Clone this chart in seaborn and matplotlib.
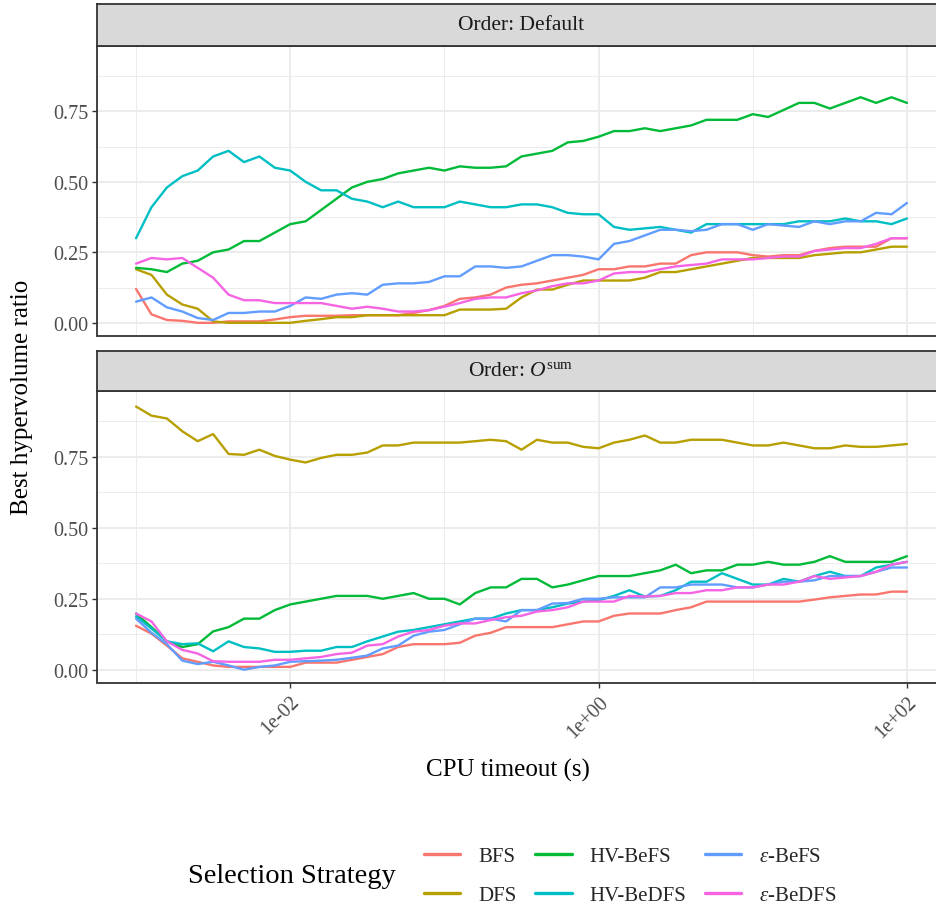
import numpy as np
import pandas as pd
import matplotlib
matplotlib.use("Agg")
import matplotlib.pyplot as plt
import seaborn as sns
from matplotlib.lines import Line2D
from matplotlib.ticker import FixedLocator, NullFormatter

# ---------------- data ----------------
timeout_s = np.logspace(-3, 2, 51)  # CPU timeout grid (s), 10 points per decade

strategies = ["BFS", "DFS", "HV-BeFS", "HV-BeDFS", "ε-BeFS", "ε-BeDFS"]
strategy_labels = ["BFS", "DFS", "HV-BeFS", "HV-BeDFS",
                   r"$\varepsilon$-BeFS", r"$\varepsilon$-BeDFS"]
facets = ["Default", "Osum"]
facet_titles = ["Order: Default", r"Order: $\mathit{O}^{\mathrm{sum}}$"]

# Order: Default
default_bfs = [0.12, 0.03, 0.01, 0.007, 0.0, 0.0, 0.005, 0.005, 0.005, 0.012,
               0.02, 0.025, 0.025, 0.025, 0.027, 0.027, 0.027, 0.027, 0.035, 0.045,
               0.06, 0.085, 0.09, 0.10, 0.125, 0.135, 0.14, 0.15, 0.16, 0.17,
               0.19, 0.19, 0.20, 0.20, 0.21, 0.21, 0.24, 0.25, 0.25, 0.25,
               0.24, 0.235, 0.24, 0.24, 0.255, 0.265, 0.27, 0.27, 0.27, 0.30, 0.30]
default_dfs = [0.19, 0.17, 0.10, 0.065, 0.05, 0.005, 0.0, 0.0, 0.0, 0.0,
               0.0, 0.007, 0.013, 0.02, 0.02, 0.027, 0.027, 0.027, 0.027, 0.027,
               0.027, 0.047, 0.047, 0.047, 0.05, 0.09, 0.118, 0.118, 0.135, 0.15,
               0.15, 0.15, 0.15, 0.16, 0.18, 0.18, 0.19, 0.20, 0.21, 0.22,
               0.23, 0.23, 0.23, 0.23, 0.24, 0.245, 0.25, 0.25, 0.26, 0.27, 0.27]
default_hv_befs = [0.195, 0.19, 0.18, 0.21, 0.22, 0.25, 0.26, 0.29, 0.29, 0.32,
                   0.35, 0.36, 0.40, 0.44, 0.48, 0.50, 0.51, 0.53, 0.54, 0.55,
                   0.54, 0.555, 0.55, 0.55, 0.555, 0.59, 0.60, 0.61, 0.64, 0.645,
                   0.66, 0.68, 0.68, 0.69, 0.68, 0.69, 0.70, 0.72, 0.72, 0.72,
                   0.74, 0.73, 0.755, 0.78, 0.78, 0.76, 0.78, 0.80, 0.78, 0.80, 0.78]
default_hv_bedfs = [0.30, 0.41, 0.48, 0.52, 0.54, 0.59, 0.61, 0.57, 0.59, 0.55,
                    0.54, 0.50, 0.47, 0.47, 0.44, 0.43, 0.41, 0.43, 0.41, 0.41,
                    0.41, 0.43, 0.42, 0.41, 0.41, 0.42, 0.42, 0.41, 0.39, 0.385,
                    0.385, 0.34, 0.33, 0.335, 0.34, 0.33, 0.32, 0.35, 0.35, 0.35,
                    0.35, 0.35, 0.35, 0.36, 0.36, 0.36, 0.37, 0.36, 0.36, 0.35, 0.37]
default_eps_befs = [0.075, 0.09, 0.055, 0.04, 0.017, 0.01, 0.035, 0.035, 0.04, 0.04,
                    0.06, 0.09, 0.085, 0.10, 0.105, 0.10, 0.135, 0.14, 0.14, 0.145,
                    0.165, 0.165, 0.20, 0.20, 0.195, 0.20, 0.22, 0.24, 0.24, 0.235,
                    0.225, 0.28, 0.29, 0.31, 0.33, 0.33, 0.325, 0.33, 0.35, 0.35,
                    0.33, 0.35, 0.345, 0.34, 0.36, 0.35, 0.36, 0.36, 0.39, 0.385, 0.425]
default_eps_bedfs = [0.21, 0.23, 0.225, 0.23, 0.195, 0.16, 0.10, 0.08, 0.08, 0.07,
                     0.07, 0.07, 0.07, 0.06, 0.05, 0.057, 0.05, 0.04, 0.04, 0.045,
                     0.057, 0.07, 0.085, 0.09, 0.09, 0.105, 0.115, 0.13, 0.14, 0.14,
                     0.15, 0.175, 0.18, 0.18, 0.19, 0.20, 0.205, 0.21, 0.225, 0.225,
                     0.225, 0.23, 0.235, 0.235, 0.255, 0.26, 0.265, 0.265, 0.28, 0.30, 0.30]

# Order: O^sum
osum_bfs = [0.155, 0.127, 0.085, 0.04, 0.028, 0.015, 0.01, 0.01, 0.01, 0.01,
            0.01, 0.025, 0.025, 0.025, 0.035, 0.045, 0.055, 0.08, 0.09, 0.09,
            0.09, 0.095, 0.12, 0.13, 0.15, 0.15, 0.15, 0.15, 0.16, 0.17,
            0.17, 0.19, 0.198, 0.198, 0.198, 0.21, 0.22, 0.24, 0.24, 0.24,
            0.24, 0.24, 0.24, 0.24, 0.247, 0.255, 0.26, 0.265, 0.265, 0.275, 0.275]
osum_dfs = [0.927, 0.895, 0.885, 0.84, 0.805, 0.83, 0.76, 0.757, 0.775, 0.753,
            0.74, 0.73, 0.746, 0.757, 0.757, 0.765, 0.79, 0.79, 0.80, 0.80,
            0.80, 0.80, 0.805, 0.81, 0.805, 0.775, 0.81, 0.80, 0.80, 0.785,
            0.78, 0.80, 0.81, 0.825, 0.80, 0.80, 0.81, 0.81, 0.81, 0.80,
            0.79, 0.79, 0.80, 0.79, 0.78, 0.78, 0.79, 0.785, 0.785, 0.79, 0.795]
osum_hv_befs = [0.198, 0.15, 0.10, 0.08, 0.09, 0.135, 0.15, 0.18, 0.18, 0.21,
                0.23, 0.24, 0.25, 0.26, 0.26, 0.26, 0.25, 0.26, 0.27, 0.25,
                0.25, 0.23, 0.27, 0.29, 0.29, 0.32, 0.32, 0.29, 0.30, 0.315,
                0.33, 0.33, 0.33, 0.34, 0.35, 0.37, 0.34, 0.35, 0.35, 0.37,
                0.37, 0.38, 0.37, 0.37, 0.38, 0.40, 0.38, 0.38, 0.38, 0.38, 0.40]
osum_hv_bedfs = [0.188, 0.145, 0.10, 0.09, 0.093, 0.065, 0.10, 0.08, 0.075, 0.063,
                 0.063, 0.067, 0.067, 0.08, 0.08, 0.10, 0.117, 0.134, 0.14, 0.15,
                 0.16, 0.17, 0.18, 0.18, 0.198, 0.21, 0.21, 0.22, 0.233, 0.24,
                 0.245, 0.26, 0.28, 0.258, 0.26, 0.28, 0.31, 0.31, 0.34, 0.32,
                 0.30, 0.30, 0.32, 0.31, 0.33, 0.345, 0.33, 0.33, 0.36, 0.37, 0.38]
osum_eps_befs = [0.18, 0.13, 0.09, 0.032, 0.02, 0.028, 0.015, 0.0, 0.01, 0.015,
                 0.028, 0.03, 0.032, 0.035, 0.042, 0.05, 0.075, 0.085, 0.12, 0.134,
                 0.14, 0.16, 0.18, 0.18, 0.17, 0.21, 0.21, 0.233, 0.235, 0.25,
                 0.25, 0.255, 0.255, 0.255, 0.29, 0.29, 0.30, 0.30, 0.30, 0.29,
                 0.29, 0.30, 0.31, 0.31, 0.315, 0.33, 0.33, 0.33, 0.345, 0.36, 0.36]
osum_eps_bedfs = [0.198, 0.17, 0.10, 0.07, 0.057, 0.03, 0.028, 0.028, 0.028, 0.035,
                  0.035, 0.04, 0.045, 0.055, 0.06, 0.085, 0.09, 0.117, 0.134, 0.14,
                  0.155, 0.163, 0.163, 0.175, 0.185, 0.19, 0.205, 0.21, 0.22, 0.24,
                  0.24, 0.24, 0.26, 0.258, 0.26, 0.27, 0.27, 0.28, 0.28, 0.29,
                  0.29, 0.30, 0.30, 0.31, 0.33, 0.32, 0.325, 0.33, 0.345, 0.37, 0.38]

series = {
    "Default": [default_bfs, default_dfs, default_hv_befs, default_hv_bedfs,
                default_eps_befs, default_eps_bedfs],
    "Osum": [osum_bfs, osum_dfs, osum_hv_befs, osum_hv_bedfs,
             osum_eps_befs, osum_eps_bedfs],
}

rows = []
for facet in facets:
    for strat, vals in zip(strategies, series[facet]):
        for t, v in zip(timeout_s, vals):
            rows.append({"facet": facet, "strategy": strat, "timeout": t, "ratio": v})
df = pd.DataFrame(rows)

colors = ["#F8766D", "#B79F00", "#00BA38", "#00BFC4", "#619CFF", "#F564E3"]
palette = dict(zip(strategies, colors))

# ---------------- style ----------------
sns.set_theme(style="white")
plt.rcParams["font.family"] = ["Liberation Serif", "DejaVu Serif"]
plt.rcParams["mathtext.fontset"] = "custom"
plt.rcParams["mathtext.rm"] = "Liberation Serif"
plt.rcParams["mathtext.it"] = "Liberation Serif:italic"
plt.rcParams["mathtext.bf"] = "Liberation Serif:bold"

W, H = 937, 912
fig = plt.figure(figsize=(W / 100, H / 100), dpi=100)

def fx(px):
    return px / W

def fy(py):
    return 1 - py / H

left_px, right_px = 97.5, 945.5
panels = [(47, 337, 5), (392, 684, 352)]  # panel top, panel bottom, strip top

grid_col = "#EBEBEB"
dark = "#333333"
tick_col = "#4D4D4D"
ylim = (-0.04675, 0.98175)
xlim = (10 ** -3.25, 10 ** 2.25)

for i, (facet, (ptop, pbot, stop)) in enumerate(zip(facets, panels)):
    ax = fig.add_axes([fx(left_px), fy(pbot), fx(right_px - left_px), (pbot - ptop) / H])
    sub = df[df["facet"] == facet]
    sns.lineplot(data=sub, x="timeout", y="ratio", hue="strategy",
                 hue_order=strategies, palette=palette, estimator=None,
                 linewidth=1.7, legend=False, ax=ax, zorder=3)
    ax.set_xscale("log")
    ax.set_xlim(*xlim)
    ax.set_ylim(*ylim)
    ax.set_facecolor("white")
    ax.xaxis.set_major_locator(FixedLocator([1e-2, 1e0, 1e2]))
    ax.xaxis.set_minor_locator(FixedLocator([1e-3, 1e-1, 1e1]))
    ax.yaxis.set_major_locator(FixedLocator([0, 0.25, 0.5, 0.75]))
    ax.yaxis.set_minor_locator(FixedLocator([0.125, 0.375, 0.625, 0.875]))
    ax.xaxis.set_minor_formatter(NullFormatter())
    ax.set_yticklabels(["0.00", "0.25", "0.50", "0.75"])
    ax.grid(which="major", color=grid_col, linewidth=1.3, zorder=0)
    ax.grid(which="minor", color=grid_col, linewidth=0.65, zorder=0)
    ax.set_axisbelow(True)
    for sp in ax.spines.values():
        sp.set_color(dark)
        sp.set_linewidth(1.3)
    ax.tick_params(axis="y", which="major", length=3.5, width=1.0, color=dark,
                   labelsize=14.5, labelcolor=tick_col, pad=3, left=True)
    ax.tick_params(axis="y", which="minor", length=0)
    ax.tick_params(axis="x", which="minor", length=0)
    if i == 0:
        ax.tick_params(axis="x", which="major", length=0, labelbottom=False)
    else:
        ax.tick_params(axis="x", which="major", length=3.5, width=1.0, color=dark,
                       labelsize=14.5, labelcolor=tick_col, pad=3, bottom=True)
        ax.set_xticklabels(["1e-02", "1e+00", "1e+02"], rotation=45,
                           ha="right", rotation_mode="anchor")
    ax.set_xlabel("")
    ax.set_ylabel("")

    # strip
    sax = fig.add_axes([fx(left_px), fy(ptop), fx(right_px - left_px), (ptop - stop) / H])
    sax.set_facecolor("#D9D9D9")
    sax.set_xticks([])
    sax.set_yticks([])
    for sp in sax.spines.values():
        sp.set_color(dark)
        sp.set_linewidth(1.3)
    fig.text(fx(521), fy((ptop + stop) / 2), facet_titles[i], ha="center", va="center",
             fontsize=15.5, color="#1A1A1A")

# axis titles
fig.text(fx(22), fy(397), "Best hypervolume ratio", rotation=90, ha="center",
         va="center", fontsize=18, color="black")
fig.text(fx(508), fy(770), "CPU timeout (s)", ha="center", va="center",
         fontsize=18, color="black")

# legend
handles = [Line2D([0], [0], color=c, linewidth=2.4) for c in colors]
fig.text(fx(188), fy(877), "Selection Strategy", ha="left", va="center",
         fontsize=20.5, color="black")
fig.legend(handles, strategy_labels, ncol=3, loc="center left",
           bbox_to_anchor=(fx(424), fy(877)), frameon=False, fontsize=15,
           handlelength=1.75, handletextpad=0.85, columnspacing=0.9,
           labelspacing=0.95, borderpad=0, borderaxespad=0)

fig.savefig("out.png", dpi=100)
